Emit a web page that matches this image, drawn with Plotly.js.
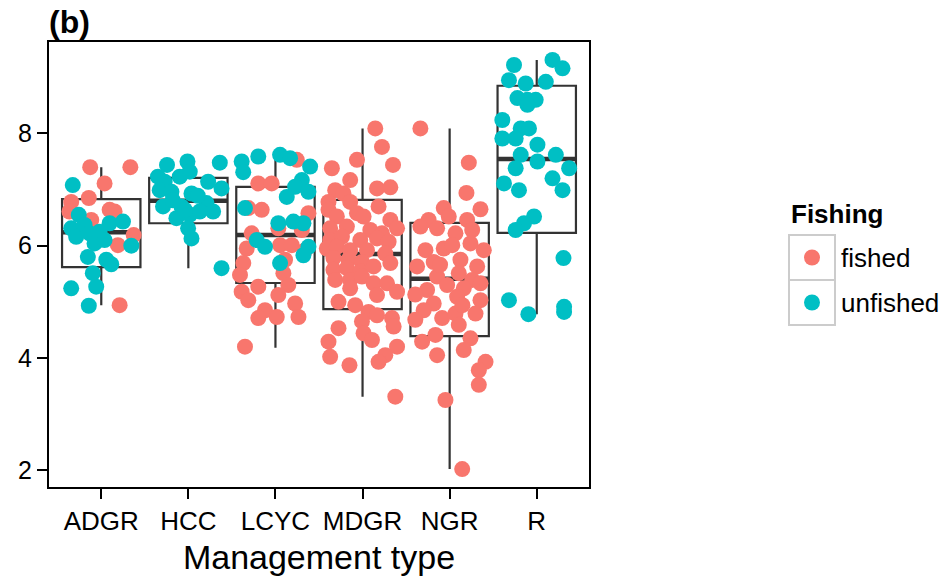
<!DOCTYPE html>
<html>
<head>
<meta charset="utf-8">
<script src="https://cdn.plot.ly/plotly-3.0.1.min.js"></script>
<style>html,body{margin:0;padding:0;background:#fff;}#chart{width:951px;height:577px;}</style>
</head>
<body>
<div id="chart"></div>
<script>
// ---- categories & box statistics ----
const categories = ['ADGR','HCC','LCYC','MDGR','NGR','R'];
const boxQ1      = [5.62, 6.40, 5.335, 4.87, 4.39, 6.23];
const boxMedian  = [6.24, 6.80, 6.19, 5.85, 5.41, 7.545];
const boxQ3      = [6.83, 7.21, 7.05, 6.815, 6.405, 8.85];
const boxLower   = [4.94, 5.60, 4.18, 3.31, 2.02, 4.78];
const boxUpper   = [7.40, 7.50, 7.60, 8.09, 8.09, 9.31];

// ---- points: values (y) and horizontal jitter offsets ----
const adgrFishedY   = [7.40,7.40,7.11,6.85,6.78,6.61,6.64,6.61,6.46,6.19,6.01,4.94];
const adgrFishedJit = [-0.127,0.334,0.038,-0.143,-0.345,-0.365,0.096,0.153,-0.115,0.372,0.191,0.211];
const adgrUnfishedY   = [7.08,6.55,6.31,6.16,6.37,6.22,6.04,6.25,6.10,6.40,6.43,6.00,5.80,5.75,5.67,5.51,5.27,5.24,4.93];
const adgrUnfishedJit = [-0.327,-0.258,-0.345,-0.288,-0.192,-0.135,-0.077,-0.02,0.038,0.096,0.249,0.345,-0.154,0.058,0.115,-0.097,-0.058,-0.345,-0.143];

const hccUnfishedY   = [7.44,7.50,7.48,7.23,7.14,7.23,7.32,7.14,7.02,6.99,6.96,6.93,6.70,6.70,6.76,6.61,6.49,6.55,6.61,6.31,6.13,5.60,6.81,6.89,6.64];
const hccUnfishedJit = [-0.245,-0.01,0.361,-0.349,-0.272,-0.099,0.016,0.227,0.381,-0.329,-0.194,0.036,-0.291,-0.079,0.208,0.284,-0.137,0.016,0.131,-0.003,0.036,0.381,-0.18,0.108,-0.04];

const lcycFishedY   = [7.53,7.11,7.11,6.67,6.64,6.58,6.22,6.31,6.28,5.95,5.69,6.01,6.01,5.92,5.75,5.48,5.51,5.30,5.18,5.27,5.03,5.12,4.97,4.85,4.71,4.73,4.73,4.20];
const lcycFishedJit = [0.245,-0.197,-0.043,-0.312,-0.158,0.379,-0.273,0.033,0.303,-0.33,-0.369,0.053,0.188,0.341,0.11,-0.407,0.091,0.148,-0.388,-0.197,-0.312,0.033,0.226,-0.12,-0.197,0.015,0.264,-0.35];
const lcycUnfishedY   = [7.50,7.59,7.62,7.56,7.41,7.17,7.05,6.87,6.96,6.67,6.40,6.43,6.40,6.10,5.98,5.98,5.83,5.69,7.31];
const lcycUnfishedJit = [-0.388,-0.197,0.053,0.168,0.398,0.303,0.226,0.13,0.379,-0.35,0.033,0.206,0.321,-0.215,-0.12,0.379,0.321,0.053,-0.37];

const mdgrFishedY = [8.09,7.76,7.53,7.38,7.44,7.17,7.02,7.04,6.99,6.93,6.78,6.78,6.70,6.64,6.52,6.58,6.52,6.46,6.31,6.31,6.34,6.28,6.22,6.10,6.16,6.10,6.13,6.07,5.95,5.98,5.92,5.92,5.86,5.78,5.75,5.71,5.69,5.57,5.60,5.54,5.63,5.39,5.39,5.45,5.33,5.33,5.24,5.18,5.12,5.00,4.94,4.82,4.76,4.71,4.65,4.53,4.56,4.44,4.32,4.29,4.20,4.02,4.05,3.93,3.87,3.31];
const mdgrFishedJit = [0.146,0.223,-0.064,-0.352,0.35,-0.142,0.166,0.319,-0.314,-0.219,-0.391,-0.142,0.184,-0.391,-0.295,-0.064,0.012,0.319,0.396,-0.372,-0.18,0.089,0.223,-0.372,-0.237,-0.026,0.166,0.299,-0.41,-0.295,-0.142,0.051,0.261,-0.334,-0.161,-0.007,0.319,-0.334,-0.18,-0.026,0.127,-0.314,-0.142,-0.007,0.127,0.281,-0.142,0.396,0.166,-0.276,-0.084,0.069,0.166,0.338,-0.007,-0.276,0.357,0.012,0.108,-0.391,0.396,-0.372,0.261,0.184,-0.15,0.376];

const ngrFishedY = [8.09,7.48,6.94,6.65,6.67,6.46,6.34,6.52,6.46,6.28,6.31,6.22,5.95,5.92,5.92,6.04,5.71,5.75,5.63,5.63,5.45,5.51,5.39,5.30,5.21,5.24,5.33,5.09,5.03,4.97,4.85,4.68,4.79,4.71,4.79,4.59,4.41,4.29,4.35,4.05,4.14,3.93,3.78,3.52,3.25,2.02,5.13,6.01,5.66,4.94];
const ngrFishedJit = [-0.336,0.22,0.193,0.354,-0.068,-0.241,-0.336,-0.01,0.201,0.259,-0.144,0.067,-0.068,-0.278,0.392,0.239,-0.183,0.124,-0.374,0.316,-0.144,0.105,0.259,-0.029,-0.259,0.162,0.354,0.086,0.354,-0.183,-0.298,-0.394,0.297,-0.086,0.067,0.105,-0.163,-0.316,0.239,-0.144,0.162,0.412,0.335,0.335,-0.048,0.144,-0.395,0.03,-0.11,0.147];

const rUnfishedY = [9.22,9.31,9.16,8.95,8.89,8.92,8.63,8.60,8.60,8.51,8.24,8.09,8.09,7.91,7.91,7.80,7.62,7.62,7.50,7.38,7.38,7.20,7.11,6.99,6.99,6.52,6.40,6.28,5.78,5.03,4.78,4.91,4.82];
const rUnfishedJit = [-0.261,0.181,0.296,-0.319,-0.127,0.104,-0.222,-0.107,-0.012,-0.107,-0.395,-0.184,-0.089,-0.395,-0.242,0.008,-0.184,0.219,0.008,0.372,-0.242,0.181,-0.376,0.296,-0.204,-0.031,-0.146,-0.242,0.307,-0.319,-0.096,0.314,0.314];

const fishingLevels = ['fished','unfished'];
const fishingColors = ['#F8766D','#00BFC4'];

// ---- assemble ----
const fishedGroups = [
  [0, adgrFishedY, adgrFishedJit],
  [2, lcycFishedY, lcycFishedJit],
  [3, mdgrFishedY, mdgrFishedJit],
  [4, ngrFishedY, ngrFishedJit]
];
const unfishedGroups = [
  [0, adgrUnfishedY, adgrUnfishedJit],
  [1, hccUnfishedY, hccUnfishedJit],
  [2, lcycUnfishedY, lcycUnfishedJit],
  [5, rUnfishedY, rUnfishedJit]
];
function flatten(groups){
  const xs=[], ys=[];
  groups.forEach(([ci, yv, jv]) => { yv.forEach((v,k)=>{ xs.push(ci + jv[k]); ys.push(v); }); });
  return {xs, ys};
}
const F = flatten(fishedGroups), U = flatten(unfishedGroups);
const catIdx = categories.map((c,i)=>i);
const BOXW = 0.9;

const FONT = '"Liberation Sans", Arial, Helvetica, sans-serif';
const boxTrace = {
  type:'box', x: catIdx, q1: boxQ1, median: boxMedian, q3: boxQ3,
  lowerfence: boxLower, upperfence: boxUpper,
  width: BOXW, whiskerwidth: 0, boxpoints: false,
  fillcolor:'#ffffff', line:{color:'#333333', width:2.2},
  showlegend:false, hoverinfo:'skip'
};
const medX=[], medY=[];
catIdx.forEach(i=>{ medX.push(i-BOXW/2, i+BOXW/2, null); medY.push(boxMedian[i], boxMedian[i], null); });
const medTrace = {type:'scatter', mode:'lines', x:medX, y:medY, line:{color:'#333333', width:4.5}, showlegend:false, hoverinfo:'skip'};

const ptFished = {type:'scatter', mode:'markers', name: fishingLevels[0], x:F.xs, y:F.ys,
  marker:{color:fishingColors[0], size:16, line:{width:0}}, showlegend:false};
const ptUnfished = {type:'scatter', mode:'markers', name: fishingLevels[1], x:U.xs, y:U.ys,
  marker:{color:fishingColors[1], size:16, line:{width:0}}, showlegend:false};

// plot area pixels
const L=49, R=589, T=42, B=487;
const W=951, H=577;
const px = x => (x-L)/(R-L);
const py = y => (B-y)/(B-T);

const shapes=[], annotations=[];
// manual ggplot-style legend
annotations.push({xref:'paper', yref:'paper', x:px(789), y:py(214), xanchor:'left', yanchor:'middle',
  text:'<b>Fishing</b>', showarrow:false, font:{family:FONT, size:26, color:'#000'}});
fishingLevels.forEach((lvl,k)=>{
  const top = 235 + k*45, bot = top+45, cy = (top+bot)/2;
  shapes.push({type:'rect', xref:'paper', yref:'paper', x0:px(789), x1:px(835), y0:py(bot), y1:py(top),
    line:{color:'#cccccc', width:2}, fillcolor:'#ffffff', layer:'above'});
  shapes.push({type:'circle', xref:'paper', yref:'paper', x0:px(812-8), x1:px(812+8), y0:py(cy+8), y1:py(cy-8),
    line:{width:0}, fillcolor:fishingColors[k], layer:'above'});
  annotations.push({xref:'paper', yref:'paper', x:px(839), y:py(cy), xanchor:'left', yanchor:'middle',
    text:lvl, showarrow:false, font:{family:FONT, size:26, color:'#000'}});
});

const layout = {
  width:W, height:H,
  margin:{l:L, r:W-R, t:T, b:H-B, pad:0},
  paper_bgcolor:'#ffffff', plot_bgcolor:'#ffffff',
  font:{family:FONT, color:'#000'},
  title:{text:'<b>(b)</b>', font:{family:FONT, size:32, color:'#000'}, xref:'container', x:49/W, xanchor:'left',
    yref:'container', y:1-22/H, yanchor:'middle'},
  xaxis:{range:[-0.6,5.6], tickmode:'array', tickvals:catIdx, ticktext:categories,
    showgrid:false, zeroline:false, showline:true, mirror:true, linecolor:'#000', linewidth:2,
    ticks:'outside', ticklen:10, tickwidth:2, tickcolor:'#000',
    tickfont:{family:FONT, size:26, color:'#000'},
    title:{text:'Management type', font:{family:FONT, size:34, color:'#000'}, standoff:10}},
  yaxis:{range:[1.70,9.63], tickmode:'array', tickvals:[2,4,6,8],
    showgrid:false, zeroline:false, showline:true, mirror:true, linecolor:'#000', linewidth:2,
    ticks:'outside', ticklen:10, tickwidth:2, tickcolor:'#000',
    tickfont:{family:FONT, size:25, color:'#000'}},
  shapes, annotations, showlegend:false
};
Plotly.newPlot('chart', [boxTrace, medTrace, ptFished, ptUnfished], layout, {displayModeBar:false, staticPlot:true});
</script>
</body>
</html>
